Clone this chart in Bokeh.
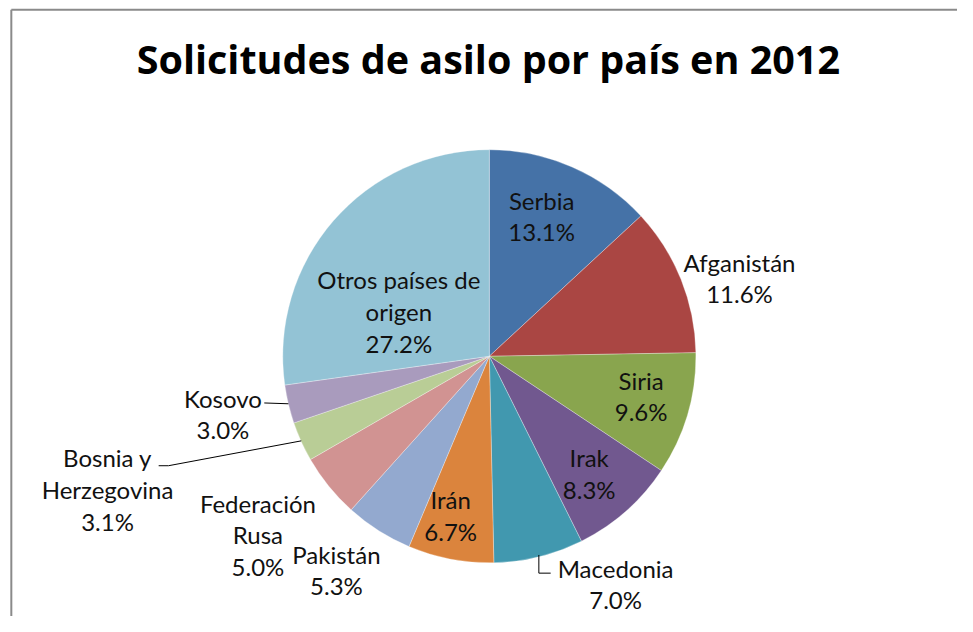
import math
from bokeh.plotting import figure
from bokeh.models import Range1d, ColumnDataSource
from bokeh.core.properties import value
from bokeh.embed import file_html
from bokeh.resources import INLINE

# ---------------- data ----------------
title = "Solicitudes de asilo por país en 2012"
countries = ["Serbia", "Afganistán", "Siria", "Irak", "Macedonia", "Irán",
             "Pakistán", "Federación Rusa", "Bosnia y Herzegovina", "Kosovo",
             "Otros países de origen"]
shares = [13.1, 11.6, 9.6, 8.3, 7.0, 6.7, 5.3, 5.0, 3.1, 3.0, 27.2]
label_lines = [["Serbia"], ["Afganistán"], ["Siria"], ["Irak"], ["Macedonia"],
               ["Irán"], ["Pakistán"], ["Federación", "Rusa"],
               ["Bosnia y", "Herzegovina"], ["Kosovo"],
               ["Otros países de", "origen"]]
colors = ["#4572A7", "#AA4643", "#89A54E", "#71588F", "#4198AF", "#DB843D",
          "#93A9CF", "#D19392", "#B9CD96", "#A99BBD", "#93C3D5"]

# ---------------- layout ----------------
W, H = 957, 616            # figure size in pixels
REF_W, REF_H = 973, 632    # coordinate frame (reference picture units)
CX, CY, R = 497, REF_H - 365, 210
PITCH = 32.5
FONT = "Lato"
# label placement: (radius fraction, angular nudge in degrees)
label_place = [(0.73, -3.3), (1.27, 4.4), (0.76, -1.5), (0.75, 1.3),
               (1.27, -14.9), (0.80, 2.7), (1.28, 2.9), (1.42, 1.1),
               (1.96, 5.0), (1.32, 1.1), (0.49, -14.4)]
# leader lines: index -> (end offset from first line centre, elbow mode)
leaders = {4: ((-66, -5), "vertical"), 8: ((52, -8), "horizontal"),
           9: ((42, -5), None)}

p = figure(width=W, height=H, output_backend="svg", toolbar_location=None,
           x_range=Range1d(0, REF_W), y_range=Range1d(0, REF_H),
           min_border=0, outline_line_color=None, background_fill_color="white",
           border_fill_color="white")
p.axis.visible = False
p.grid.visible = False

total = sum(shares)
cum = 0.0
starts, ends, mids = [], [], []
for s in shares:
    a0 = cum / total
    cum += s
    a1 = cum / total
    starts.append(math.pi / 2 - 2 * math.pi * a0)
    ends.append(math.pi / 2 - 2 * math.pi * a1)
    mids.append((a0 + a1) / 2 * 360.0)

src = ColumnDataSource(dict(country=countries, share=shares, start=starts,
                            end=ends, color=colors))
p.wedge(x=CX, y=CY, radius=R, start_angle="start", end_angle="end",
        direction="clock", fill_color="color", line_color="white",
        line_width=0.5, line_alpha=0.6, source=src)

# labels
tx, ty, tt = [], [], []
lx, ly = [], []
for i, lines in enumerate(label_lines):
    rf, dth = label_place[i]
    th = math.radians(mids[i] + dth)
    px = CX + rf * R * math.sin(th)
    py = CY + rf * R * math.cos(th)
    all_lines = lines + [f"{shares[i]:.1f}%"]
    n = len(all_lines)
    first_y = py + (n - 1) / 2 * PITCH
    for k, t in enumerate(all_lines):
        tx.append(px)
        ty.append(first_y - k * PITCH)
        tt.append(t)
    if i in leaders:
        (ox, oy), mode = leaders[i]
        thm = math.radians(mids[i])
        sx, sy = CX + R * math.sin(thm), CY + R * math.cos(thm)
        ex, ey = px + ox, first_y + oy
        if mode == "vertical":
            xs, ys = [sx, sx, ex], [sy, ey, ey]
        elif mode == "horizontal":
            xs, ys = [sx, ex + 10, ex], [sy, ey, ey]
        else:
            xs, ys = [sx, ex], [sy, ey]
        lx.append(xs)
        ly.append(ys)

p.multi_line(xs=lx, ys=ly, line_color="#000000", line_width=1)
p.text(x=tx, y=ty, text=tt, text_align="center", text_baseline="middle",
       text_font=value(FONT), text_font_size="24px", text_color="#111111")

# title
p.text(x=[496], y=[REF_H - 60], text=[title], text_align="center",
       text_baseline="middle", text_font=value("Open Sans"),
       text_font_size="39.5px", text_font_style="bold", text_color="#000000")

# chart border (partially visible frame)
p.multi_line(xs=[[11, 11], [11, 990]], ys=[[-20, REF_H - 9.5], [REF_H - 9.5, REF_H - 9.5]],
             line_color="#8a8a8a", line_width=2)

open("out.html", "w").write(file_html(p, INLINE))
